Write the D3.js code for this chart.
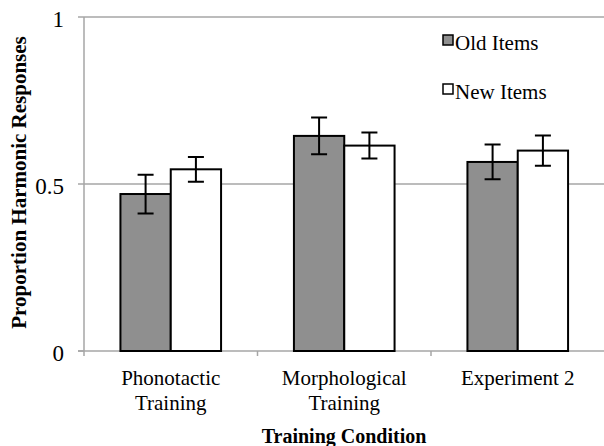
<!DOCTYPE html>
<html>
<head>
<meta charset="utf-8">
<script src="https://cdn.jsdelivr.net/npm/d3@7"></script>
<style>
  body { margin: 0; background: #fff; }
  svg { display: block; font-family: "Liberation Serif", "Times New Roman", serif; }
</style>
</head>
<body>
<div class="chart"></div>
<script>
let conditions = [["Phonotactic", "Training"], ["Morphological", "Training"], ["Experiment 2"]]
let seriesNames = ["Old Items", "New Items"]
let oldItems = [0.470, 0.644, 0.566]
let newItems = [0.544, 0.615, 0.600]
let oldErr = [0.058, 0.055, 0.052]
let newErr = [0.037, 0.039, 0.045]
let yTicks = [0, 0.5, 1]

let width = 604, height = 446
let margin = { left: 84, right: 0, top: 17, bottom: 95 }

let svg = d3.select(".chart")
  .append("svg")
  .attr("width", width)
  .attr("height", height)

let y = d3.scaleLinear().domain([0, 1]).range([height - margin.bottom, margin.top])
let x = d3.scaleBand().domain(d3.range(conditions.length))
  .range([margin.left, width - margin.right + 0.5]).paddingInner(0.42).paddingOuter(0.21)
let inner = d3.scaleBand().domain([0, 1]).range([0, x.bandwidth()])
let colors = ["#8f8f8f", "#ffffff"]

//网格线
svg.append("g")
  .selectAll("line")
  .data(yTicks.filter(d => d > 0))
  .enter()
  .append("line")
  .attr("x1", margin.left)
  .attr("x2", width)
  .attr("y1", d => y(d))
  .attr("y2", d => y(d))
  .attr("stroke", "#a6a6a6")
  .attr("stroke-width", 1.5)

//坐标轴
let axisG = svg.append("g").attr("stroke", "#a6a6a6").attr("stroke-width", 1.5)
axisG.append("line")
  .attr("x1", margin.left).attr("x2", margin.left)
  .attr("y1", y(1)).attr("y2", y(0) + 5)
axisG.append("line")
  .attr("x1", margin.left - 6).attr("x2", width)
  .attr("y1", y(0)).attr("y2", y(0))
axisG.selectAll(".ytick")
  .data(yTicks)
  .enter()
  .append("line")
  .attr("x1", margin.left - 6).attr("x2", margin.left)
  .attr("y1", d => y(d)).attr("y2", d => y(d))
let stepX = d3.range(conditions.length + 1).map(i => margin.left + i * x.step())
axisG.selectAll(".xtick")
  .data(stepX.slice(1, 3))
  .enter()
  .append("line")
  .attr("x1", d => d).attr("x2", d => d)
  .attr("y1", y(0)).attr("y2", y(0) + 5)

//y刻度文字
svg.append("g")
  .selectAll("text")
  .data(yTicks)
  .enter()
  .append("text")
  .attr("x", 64)
  .attr("y", d => y(d) + 10)
  .attr("text-anchor", "end")
  .attr("font-size", 23)
  .text(d => d)

//柱子
let bars = svg.append("g")
  .selectAll("g")
  .data(conditions)
  .enter()
  .append("g")
  .attr("transform", (d, i) => `translate(${x(i)},0)`)
bars.selectAll("rect")
  .data((d, i) => [oldItems[i], newItems[i]])
  .enter()
  .append("rect")
  .attr("x", (d, j) => inner(j))
  .attr("width", inner.bandwidth())
  .attr("y", d => y(d))
  .attr("height", d => y(0) - y(d))
  .attr("fill", (d, j) => colors[j])
  .attr("stroke", "#000")
  .attr("stroke-width", 2)

//误差线
bars.selectAll(".err")
  .data((d, i) => [[oldItems[i], oldErr[i]], [newItems[i], newErr[i]]])
  .enter()
  .append("path")
  .attr("fill", "none")
  .attr("stroke", "#000")
  .attr("stroke-width", 2)
  .attr("d", (d, j) => {
    let cx = inner(j) + inner.bandwidth() / 2
    let t = y(d[0] + d[1]), b = y(d[0] - d[1])
    return `M${cx - 8},${t}H${cx + 8}M${cx},${t}V${b}M${cx - 8},${b}H${cx + 8}`
  })

//x标签
let labels = svg.append("g")
  .selectAll("text")
  .data(conditions)
  .enter()
  .append("text")
  .attr("text-anchor", "middle")
  .attr("font-size", 21)
  .attr("transform", (d, i) => `translate(${x(i) + x.bandwidth() / 2},385)`)
labels.selectAll("tspan")
  .data(d => d)
  .enter()
  .append("tspan")
  .attr("x", 0)
  .attr("y", (d, k) => k * 25)
  .text(d => d)

//轴标题
svg.append("text")
  .attr("x", 344)
  .attr("y", 443)
  .attr("text-anchor", "middle")
  .attr("font-size", 20)
  .attr("font-weight", "bold")
  .text("Training Condition")
svg.append("text")
  .attr("transform", `translate(26,182.5) rotate(-90)`)
  .attr("text-anchor", "middle")
  .attr("font-size", 21)
  .attr("font-weight", "bold")
  .text("Proportion Harmonic Responses")

//图例
let legend = svg.append("g")
  .selectAll("g")
  .data(seriesNames)
  .enter()
  .append("g")
  .attr("transform", (d, i) => `translate(443,${35 + i * 49})`)
legend.append("rect")
  .attr("width", 10)
  .attr("height", 10)
  .attr("fill", (d, i) => colors[i])
  .attr("stroke", "#000")
  .attr("stroke-width", 1.5)
legend.append("text")
  .attr("x", 12)
  .attr("y", 15)
  .attr("font-size", 21)
  .text(d => d)
</script>
</body>
</html>
